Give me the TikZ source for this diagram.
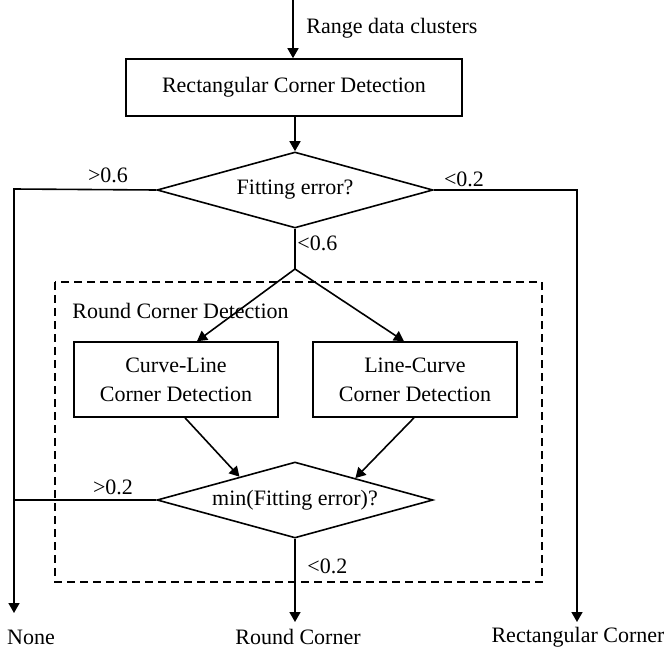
\documentclass[tikz,border=0pt]{standalone}
\usepackage{fontspec}
\setmainfont{Liberation Serif}
\usetikzlibrary{shapes.geometric,arrows.meta,calc}
\begin{document}
\begin{tikzpicture}[x=0.5pt,y=-0.5pt,
  every node/.style={font=\fontsize{11}{14.5}\selectfont},
  line/.style={line width=0.8pt},
  arr/.style={line width=0.8pt,-{Triangle[length=5pt,width=5.5pt]}},
  procbox/.style={draw,line width=0.8pt,inner sep=0pt,align=center},
  decision/.style={draw,line width=0.8pt,diamond,aspect=3.63,inner sep=0pt,minimum width=138pt,minimum height=38pt},
  lbl/.style={inner sep=0pt}]
\useasboundingbox (0,0) rectangle (664,653);
% dashed group
\draw[line width=0.8pt,dash pattern=on 4pt off 2.5pt] (55,282) rectangle (542,582);
\node[lbl,anchor=west] (grp) at (72,311) {Round Corner Detection};
% nodes
\coordinate (start) at (293,0);
\node[procbox,minimum width=168pt,minimum height=28.5pt] (rcd) at (294,87.5) {Rectangular Corner Detection};
\node[decision] (d1) at (295,190) {Fitting error?};
\coordinate (j) at (295,269);
\node[procbox,minimum width=102pt,minimum height=37.5pt] (lb) at (176,379.5) {Curve-Line\\Corner Detection};
\node[procbox,minimum width=102pt,minimum height=37.5pt] (rb) at (415,379.5) {Line-Curve\\Corner Detection};
\node[decision] (d2) at (295,500) {min(Fitting error)?};
\coordinate (lc) at (14,189);
\coordinate (le) at (14,613);
\coordinate (rc) at (577,190);
\coordinate (re) at (577,622);
\coordinate (me) at (295,622);
% labels
\node[lbl,anchor=west] (rdc) at (306,28) {Range data clusters};
\node[lbl] (g06) at (108,175) {>0.6};
\node[lbl] (l02a) at (464,179) {<0.2};
\node[lbl,anchor=west] (l06) at (297,243) {<0.6};
\node[lbl] (g02) at (113,487) {>0.2};
\node[lbl,anchor=west] (l02b) at (307,566) {<0.2};
\node[lbl] (none) at (31,637) {None};
\node[lbl] (round) at (298,637) {Round Corner};
\node[lbl] (rect) at (578,637) {Rectangular Corner};
% connectors
\draw[arr] (start) -- (start |- rcd.north);
\draw[arr] (rcd.south -| d1.north) -- (d1.north);
\draw[line] (d1.south) -- (j);
\draw[arr] (j) -- ([xshift=10.5pt]lb.north);
\draw[arr] (j) -- ([xshift=-5.5pt]rb.north);
\draw[arr] ([xshift=4.5pt]lb.south) -- ($(d2.west)!0.6!(d2.north)$);
\draw[arr] ([xshift=-0.5pt]rb.south) -- ($(d2.north)!0.435!(d2.east)$);
\draw[arr] (d1.west) -- (lc) -- (le);
\draw[arr] (d1.east) -- (rc) -- (re);
\draw[line] (d2.west) -- (d2.west -| le);
\draw[arr] (d2.south) -- (me);
\end{tikzpicture}
\end{document}
